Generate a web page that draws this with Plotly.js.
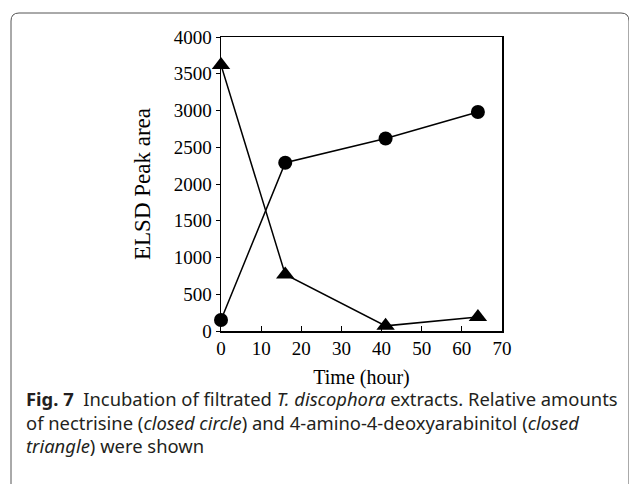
<!DOCTYPE html>
<html>
<head>
<meta charset="utf-8">
<script src="https://cdn.plot.ly/plotly-3.0.1.min.js"></script>
<style>html,body{margin:0;padding:0;background:#fff;}#chart{width:629px;height:484px;}</style>
</head>
<body>
<div id="chart"></div>
<script>
// Data
var timeHours = [0, 16, 41, 64];
var nectrisine = [150, 2290, 2620, 2980];          // closed circle
var aminoDeoxyarabinitol = [3620, 770, 70, 190];   // closed triangle
var xTickVals = [0, 10, 20, 30, 40, 50, 60, 70];
var yTickVals = [0, 500, 1000, 1500, 2000, 2500, 3000, 3500, 4000];

var W = 629, H = 484;
var ML = 221, MR = 127, MT = 37, MB = 153;
var PW = W - ML - MR, PH = H - MT - MB;
function px(x){ return (x - ML) / PW; }
function py(y){ return (H - MB - y) / PH; }

var serif = "Liberation Serif, Times New Roman, serif";
var sans = "Noto Sans, Open Sans, sans-serif";

var traces = [
  {
    x: timeHours, y: nectrisine, mode: 'lines+markers', type: 'scatter',
    line: {color: '#000', width: 1.5},
    marker: {symbol: 'circle', size: 14, color: '#000'},
    cliponaxis: false, showlegend: false
  },
  {
    x: timeHours, y: aminoDeoxyarabinitol, mode: 'lines+markers', type: 'scatter',
    line: {color: '#000', width: 1.5},
    marker: {symbol: 'triangle-up', size: 16, color: '#000'},
    cliponaxis: false, showlegend: false
  }
];

var borderPath = 'M ' + px(11) + ' ' + py(490) +
  ' L ' + px(11) + ' ' + py(21) +
  ' Q ' + px(11) + ' ' + py(13) + ' ' + px(19) + ' ' + py(13) +
  ' L ' + px(621) + ' ' + py(13) +
  ' Q ' + px(629) + ' ' + py(13) + ' ' + px(629) + ' ' + py(21) +
  ' L ' + px(629) + ' ' + py(490);

var captionLines = [
  '<b>Fig. 7</b>  Incubation of filtrated <i>T. discophora</i> extracts. Relative amounts',
  'of nectrisine (<i>closed circle</i>) and 4-amino-4-deoxyarabinitol (<i>closed</i>',
  '<i>triangle</i>) were shown'
];
var captionY = [398, 422, 445];
var annotations = captionLines.map(function(t, i){
  return {
    text: t, xref: 'paper', yref: 'paper', x: px(24), y: py(captionY[i]),
    xanchor: 'left', yanchor: 'middle', showarrow: false,
    font: {family: sans, size: 18.4, color: '#231f20'}
  };
});

var layout = {
  width: W, height: H,
  margin: {l: ML, r: MR, t: MT, b: MB, pad: 0},
  paper_bgcolor: '#fff', plot_bgcolor: '#fff',
  font: {family: serif, color: '#000'},
  xaxis: {
    range: [0, 70], tickvals: xTickVals, ticktext: xTickVals.map(String),
    ticks: 'inside', ticklen: 5, tickwidth: 1, tickcolor: '#000',
    showline: true, linecolor: '#000', linewidth: 1.5, mirror: true,
    showgrid: false, zeroline: false,
    tickfont: {family: serif, size: 19, color: '#000'},
    title: {text: 'Time (hour)', font: {family: serif, size: 20, color: '#000'}, standoff: 11}
  },
  yaxis: {
    range: [0, 4000], tickvals: yTickVals, ticktext: yTickVals.map(String),
    ticks: 'outside', ticklen: 4, tickwidth: 1, tickcolor: '#000',
    showline: true, linecolor: '#000', linewidth: 1.5, mirror: true,
    showgrid: false, zeroline: false,
    tickfont: {family: serif, size: 19, color: '#000'},
    title: {text: 'ELSD Peak area', font: {family: serif, size: 23, color: '#000'}, standoff: 16}
  },
  shapes: [{
    type: 'path', xref: 'paper', yref: 'paper', path: borderPath,
    line: {color: '#555', width: 1}, layer: 'below'
  }],
  annotations: annotations
};

Plotly.newPlot('chart', traces, layout, {displayModeBar: false, staticPlot: true});
</script>
</body>
</html>
